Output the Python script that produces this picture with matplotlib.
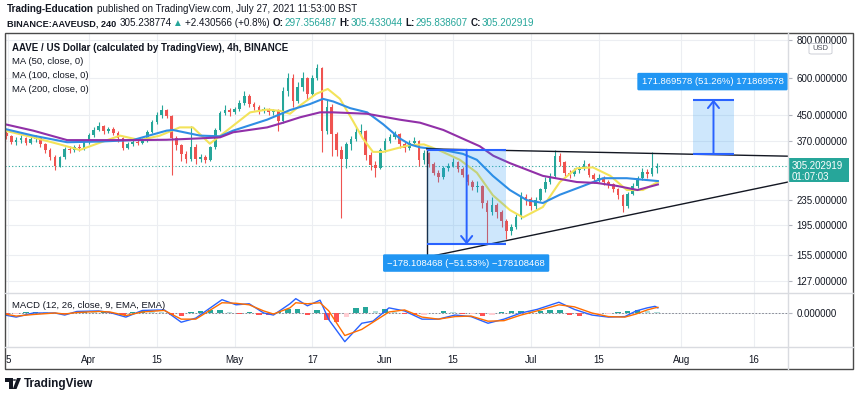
import matplotlib
matplotlib.use("Agg")
import matplotlib.pyplot as plt
from matplotlib.lines import Line2D
from matplotlib.patches import Rectangle, FancyBboxPatch, Polygon, Circle

plt.rcParams['font.family'] = ['Liberation Sans', 'DejaVu Sans']

W, H = 859, 399

# x is days since 1 Apr 2021, one candle per day
candle_days = list(range(-17, 118))
first_open = 392
closes = [385, 366, 372, 378, 364, 374, 378, 360, 345, 328,
          306, 326, 348, 344, 353, 349, 366, 386, 402, 414,
          398, 406, 394, 378, 351, 362, 368, 364, 371, 396,
          426, 452, 468, 448, 378, 358, 334, 322, 352, 322,
          326, 320, 352, 402, 458, 470, 460, 472, 494, 522,
          490, 480, 464, 472, 460, 466, 430, 540, 600, 500,
          560, 600, 530, 600, 645, 400, 480, 390, 345, 322,
          360, 376, 395, 400, 332, 308, 300, 345, 370, 382,
          390, 360, 350, 365, 370, 320, 336, 310, 290, 280,
          300, 306, 315, 298, 285, 270, 260, 262, 230, 215,
          226, 215, 200, 186, 192, 206, 240, 238, 225, 236,
          255, 270, 282, 330, 315, 290, 286, 295, 300, 310,
          285, 276, 279, 270, 265, 255, 244, 225, 246, 262,
          278, 292, 286, 300, 305.2]
highs = [400, 388, 380, 386, 382, 380, 388, 382, 365, 350,
         332, 330, 352, 356, 358, 360, 372, 392, 410, 426,
         418, 412, 410, 398, 382, 368, 374, 372, 378, 402,
         434, 462, 486, 472, 452, 385, 362, 342, 415, 362,
         334, 332, 356, 408, 466, 486, 476, 480, 505, 540,
         528, 498, 486, 480, 476, 472, 472, 560, 620, 615,
         580, 627, 605, 610, 665, 650, 505, 490, 395, 355,
         368, 385, 410, 420, 402, 340, 318, 350, 378, 390,
         398, 392, 368, 372, 380, 372, 346, 340, 314, 296,
         305, 312, 325, 318, 302, 288, 274, 272, 264, 235,
         240, 230, 218, 204, 196, 212, 250, 246, 240, 240,
         258, 280, 290, 345, 338, 318, 296, 300, 306, 320,
         312, 290, 286, 282, 274, 268, 258, 246, 250, 268,
         282, 300, 298, 340, 312]
lows = [375, 360, 358, 365, 358, 360, 368, 352, 338, 320,
        296, 302, 322, 336, 340, 342, 345, 362, 382, 398,
        390, 392, 386, 368, 344, 348, 356, 358, 360, 366,
        392, 420, 440, 440, 285, 345, 318, 312, 318, 310,
        314, 312, 318, 348, 398, 452, 448, 455, 466, 488,
        480, 470, 455, 458, 452, 450, 400, 425, 520, 480,
        495, 540, 505, 520, 590, 340, 390, 330, 330, 205,
        300, 345, 370, 385, 320, 296, 280, 298, 340, 365,
        375, 350, 340, 346, 360, 305, 310, 302, 284, 270,
        276, 294, 302, 292, 280, 264, 254, 250, 222, 168,
        210, 205, 192, 175, 180, 188, 204, 226, 218, 220,
        234, 250, 265, 278, 305, 282, 278, 282, 290, 296,
        280, 268, 270, 264, 258, 250, 238, 215, 222, 244,
        258, 274, 278, 282, 290]

ma50_days = [-17.3, -11.5, -6, -1.9, 2.3, 6.4, 10.5, 14.6, 18.7, 21.4, 24.9, 28.4,
             33.2, 36.7, 39.4, 41.4, 43.5, 46.8, 49.2, 51.7, 54.4, 56.4, 58.5, 60.6,
             63, 66, 69, 72, 76.4, 79.9, 83.2, 86.7, 89.4, 93.5, 97, 100.5, 103.8,
             107.4, 110.8, 114.1, 117.2]
ma50_vals = [400, 380, 360, 345, 365, 385, 372, 385, 410, 410, 362, 400,
             460, 470, 465, 455, 485, 530, 550, 510, 430, 377, 340, 340,
             348, 358, 360, 345, 320, 290, 244, 218, 206, 223, 270, 300, 302,
             283, 254, 254, 270]
ma100_days = [-17.3, -11.5, -4.5, 2.3, 9, 16, 17.3, 22.9, 27, 29.7, 36.7, 41.4,
              45.5, 48.2, 50.3, 53.8, 57.3, 60.6, 64, 66.1, 68.2, 72.9, 77, 79.9,
              83.2, 86.7, 90.2, 93.5, 97, 101.8, 105.9, 110.8, 117.2]
ma100_vals = [405, 385, 366, 368, 372, 400, 402, 385, 383, 400, 435, 468,
              490, 510, 500, 475, 460, 420, 377, 360, 352, 345, 335, 320,
              283, 254, 235, 230, 245, 262, 278, 278, 272]
ma200_days = [-17.3, -11.5, -4.5, 2.3, 9, 16, 22.9, 27, 29.7, 36.7, 40, 43.5,
              47.6, 50.3, 57.3, 64, 68.2, 73, 78, 80.5, 83.3, 86.7, 93.5, 100.5,
              104.7, 108.8, 113, 117.2]
ma200_vals = [420, 400, 372, 372, 372, 373, 377, 380, 395, 410, 425, 443,
              460, 460, 455, 435, 425, 402, 370, 355, 330, 312, 283, 270,
              268, 262, 254, 265]

macd_days = [-17.3, -15, -11.5, -7, -5, -2.5, 2, 4.3, 7.6, 11, 15.5, 19, 22, 27.4,
             30.3, 33, 36, 38, 41.4, 42.6, 45, 47.6, 49.4, 52.7, 56.2, 58.5, 61.8,
             65, 68.6, 72, 75.4, 78.7, 82.2, 85.5, 89, 92.3, 96.8, 100, 103.6, 107,
             110.4, 112.7, 115, 116.6, 117.2]
macd_vals = [-2, -4, 0, 0, -2, 1.5, 2, 0.5, -4, 2.5, 3, -9, -5, 13,
             8, 9, 0, -2, 9, 14, 7, 12.5, -6.5, -28, -10, -8, 5,
             2, -6, -6, -2, -3.5, -10, -6, 0, 3.5, 10.5, 3.5, -2, -4,
             -3.5, 2, 5, 6.5, 5]
signal_vals = [-1, -3, -1.5, 0, -1, 0.5, 1.5, 1, -2.5, 1, 2.5, -6, -6, 10,
               9.5, 8, 2, -1, 5, 10, 9, 10, 2, -22, -16, -9, 1,
               3, -4, -6, -3.5, -3, -8, -7.5, -2, 2, 8, 6, 0, -3.5,
               -4, -1, 3, 5, 5.5]
hist_days = list(range(-17, 118, 2))
hist_vals = [-1, -1, 0.5, 1, 0.5, 0, -1, 0.5, 1,
             0.5, 0.5, -0.5, -1.5, 0.5, 1.5, 1, 0.5, -2, -3,
             0.5, 2, 3, 3, 0.5, -1, 1, -1.5, -2, 1,
             3.5, 4, -2, 2.5, -7, -9, -4, 5, 6, 2,
             4, 1, -1, -2, -1.5, 0, 1.5, 1, -0.5, -0.5,
             -2.5, -1.5, 1, 2, 2, 1.5, 2, 2.5, 2.5, -2,
             -2.5, -2, -1, -0.5, 0.5, 1.5, 3, 2, 1]

# drawings: measure tools and triangle
drop_x = [69.6, 86.0]
drop_y = [167.5, 345.6]
rise_x = [124.4, 132.9]
rise_y = [335.3, 507.2]
tri_upper = ([69.6, 144.0], [348, 329])
tri_lower = ([69.6, 144.0], [152, 270])
last_price = 305.202919

price_ticks = [127, 155, 195, 235, 370, 450, 600, 800]
time_ticks = [-16.6, 0, 14, 30, 46, 61, 75, 91, 105, 122, 137]
time_labels = ['5', 'Apr', '15', 'May', '17', 'Jun', '15', 'Jul', '15', 'Aug', '16']

UP = '#26a69a'
DOWN = '#ef5350'
TEXT = '#131722'
GRID = '#eceef2'
BORDER = '#d9dbe0'
BLUE = '#2962ff'
BOXBLUE = '#2196f3'


def fx(x):
    return x / W


def fy(y):
    return 1 - y / H


fig = plt.figure(figsize=(W / 100, H / 100), dpi=100)
ax = fig.add_axes([fx(5), fy(292.5), fx(788) - fx(5), fy(33) - fy(292.5)])
axm = fig.add_axes([fx(5), fy(346.5), fx(788) - fx(5), fy(292.5) - fy(346.5)], sharex=ax)

ax.set_yscale('log')
ax.set_ylim(116.0, 843.9)
ax.set_xlim(-17.3, 144.0)
axm.set_ylim(-32.7, 20)

for a in (ax, axm):
    for s in a.spines.values():
        s.set_visible(False)
    a.yaxis.tick_right()
    a.tick_params(axis='y', length=3, color='#b2b5be', labelsize=7, labelcolor=TEXT, pad=3)
    a.set_axisbelow(True)

ax.set_yticks(price_ticks)
ax.set_yticklabels([f"{v:.6f}" for v in price_ticks])
ax.yaxis.set_minor_locator(matplotlib.ticker.NullLocator())
ax.set_xticks(time_ticks)
ax.tick_params(axis='x', labelbottom=False, length=0)
ax.grid(True, color=GRID, lw=0.8)

axm.set_yticks([0])
axm.set_yticklabels(['0.000000'])
axm.tick_params(axis='x', length=0, labelsize=7, labelcolor=TEXT, pad=6)
axm.set_xticklabels(time_labels)
axm.grid(True, color=GRID, lw=0.8)

# candles
opens = [first_open] + closes[:-1]
cols = [UP if c >= o else DOWN for o, c in zip(opens, closes)]
ax.vlines(candle_days, lows, highs, colors=cols, lw=0.8, zorder=2)
ax.bar(candle_days, [max(abs(c - o), 0.8) for o, c in zip(opens, closes)],
       bottom=[min(o, c) for o, c in zip(opens, closes)], width=0.55,
       color=cols, lw=0, zorder=2)

ax.axhline(last_price, color=UP, lw=0.8, ls=(0, (1, 2)), zorder=1)

ax.plot(ma50_days, ma50_vals, color='#f3e35a', lw=1.5, zorder=3)
ax.plot(ma100_days, ma100_vals, color='#2f8de4', lw=1.5, zorder=3)
ax.plot(ma200_days, ma200_vals, color='#9130a8', lw=1.5, zorder=3)

# triangle
ax.plot(*tri_upper, color=TEXT, lw=1, zorder=4)
ax.plot(*tri_lower, color=TEXT, lw=1, zorder=4)
ax.plot([tri_upper[0][0]] * 2, [tri_lower[1][0], tri_upper[1][0]], color=TEXT, lw=1, zorder=4)

# measure boxes
for bx, by, down in ((drop_x, drop_y, True), (rise_x, rise_y, False)):
    ax.add_patch(Rectangle((bx[0], by[0]), bx[1] - bx[0], by[1] - by[0],
                           facecolor=BOXBLUE, alpha=0.22, lw=0, zorder=5))
    ax.hlines(by, bx[0], bx[1], color=BLUE, lw=1.5, zorder=6)
    mid = (bx[0] + bx[1]) / 2
    tip, tail = (by[0], by[1]) if down else (by[1], by[0])
    ax.annotate('', xy=(mid, tip), xytext=(mid, tail), zorder=6,
                arrowprops=dict(arrowstyle='->,head_length=0.5,head_width=0.4',
                                color=BLUE, lw=1.4, shrinkA=0, shrinkB=0))

ax.text(77.7, 145.3, '\u2212178.108468 (\u221251.53%) \u2212178108468', color='white',
        fontsize=6.8, ha='center', va='center', zorder=7,
        bbox=dict(boxstyle='round,pad=0.45,rounding_size=0.15', fc=BOXBLUE, ec='none'))
ax.text(128.45, 582, '171.869578 (51.26%) 171869578', color='white',
        fontsize=6.8, ha='center', va='center', zorder=7,
        bbox=dict(boxstyle='round,pad=0.45,rounding_size=0.15', fc=BOXBLUE, ec='none'))

# MACD pane
hist_cols = []
prev = 0
for h in hist_vals:
    if h >= 0:
        hist_cols.append('#26a69a' if h >= prev else '#b2dfdb')
    else:
        hist_cols.append('#ff5252' if h < prev else '#ffcdd2')
    prev = h
axm.bar(hist_days, hist_vals, width=1.1, color=hist_cols, lw=0, zorder=2)
axm.axhline(0, color='#787b86', lw=0.6, ls=(0, (2, 2)), zorder=1)
axm.plot(macd_days, macd_vals, color=BLUE, lw=1, zorder=3)
axm.plot(macd_days, signal_vals, color='#ff6d00', lw=1, zorder=3)

# frame lines
def hline(y, x0, x1, color, lw=1):
    fig.add_artist(Line2D([fx(x0), fx(x1)], [fy(y), fy(y)], color=color, lw=lw))


def vline(x, y0, y1, color, lw=1):
    fig.add_artist(Line2D([fx(x), fx(x)], [fy(y0), fy(y1)], color=color, lw=lw))


hline(292.5, 5, 853, BORDER)
hline(346.5, 5, 853, BORDER)
vline(788, 33, 369, BORDER)
fig.add_artist(Rectangle((fx(5), fy(369)), fx(853) - fx(5), fy(33) - fy(369),
                         fill=False, ec='#4a4a4a', lw=1))

# last price label
fig.add_artist(Rectangle((fx(788), fy(182)), fx(849) - fx(788), fy(158) - fy(182),
                         fc=UP, ec='none'))
fig.text(fx(792), fy(166), '305.202919', color='white', fontsize=7, va='center')
fig.text(fx(792), fy(177), '01:07:03', color='white', fontsize=7, va='center')

# USD box
fig.add_artist(FancyBboxPatch((fx(809), fy(54)), fx(832) - fx(809), fy(43.5) - fy(54),
                              boxstyle='round,pad=0,rounding_size=0.003',
                              fc='white', ec='#c5c8d0', lw=0.6))
fig.text(fx(820.5), fy(49), 'USD', color='#50535e', fontsize=5.5, ha='center', va='center')

# in-chart legends
fig.text(fx(12), fy(48), 'AAVE / US Dollar (calculated by TradingView), 4h, BINANCE',
         color=TEXT, fontsize=7, fontweight='bold', va='center')
for i, lab in enumerate(['MA (50, close, 0)', 'MA (100, close, 0)', 'MA (200, close, 0)']):
    fig.text(fx(12), fy(62 + 14 * i), lab, color=TEXT, fontsize=6.8, va='center')
fig.text(fx(12), fy(305), 'MACD (12, 26, close, 9, EMA, EMA)', color=TEXT, fontsize=6.8, va='center')

# header lines with coloured pieces
renderer = fig.canvas.get_renderer()


def seq_text(x, y, pieces, size):
    for s, color, weight, gap, scale in pieces:
        t = fig.text(fx(x), fy(y), s, color=color, fontsize=size * scale,
                     fontweight=weight, va='center')
        x += t.get_window_extent(renderer=renderer).width + gap


seq_text(7, 9, [('Trading-Education', TEXT, 'bold', 3, 1.0),
                ('published on TradingView.com, July 27, 2021 11:53:00 BST', TEXT, 'normal', 0, 1.0)], 7.1)
seq_text(7, 23.5, [('BINANCE:AAVEUSD, 240', TEXT, 'bold', 3, 0.93),
                   ('305.238774', TEXT, 'normal', 2, 1.0),
                   ('\u25b2', UP, 'normal', 2, 1.0),
                   ('+2.430566 (+0.8%)', TEXT, 'normal', 3, 1.0),
                   ('O:', TEXT, 'bold', 0.5, 1.0), ('297.356487', UP, 'normal', 3, 1.0),
                   ('H:', TEXT, 'bold', 0.5, 1.0), ('305.433044', UP, 'normal', 3, 1.0),
                   ('L:', TEXT, 'bold', 0.5, 1.0), ('295.838607', UP, 'normal', 3, 1.0),
                   ('C:', TEXT, 'bold', 0.5, 1.0), ('305.202919', UP, 'normal', 0, 1.0)], 7.1)

# TradingView logo
fig.add_artist(Polygon([(fx(5), fy(378)), (fx(12.5), fy(378)), (fx(12.5), fy(389)),
                        (fx(9), fy(389)), (fx(9), fy(381.5)), (fx(5), fy(381.5))],
                       closed=True, fc=TEXT, ec='none'))
fig.add_artist(Circle((fx(14.5), fy(380)), 1.6 / W, fc=TEXT, ec='none'))
fig.add_artist(Polygon([(fx(17), fy(378)), (fx(21), fy(378)), (fx(16.5), fy(389)),
                        (fx(12.8), fy(389))], closed=True, fc=TEXT, ec='none'))
fig.text(fx(24), fy(383.5), 'TradingView', color=TEXT, fontsize=8.5, fontweight='bold', va='center')

fig.savefig('out.png', dpi=100, facecolor='white')
